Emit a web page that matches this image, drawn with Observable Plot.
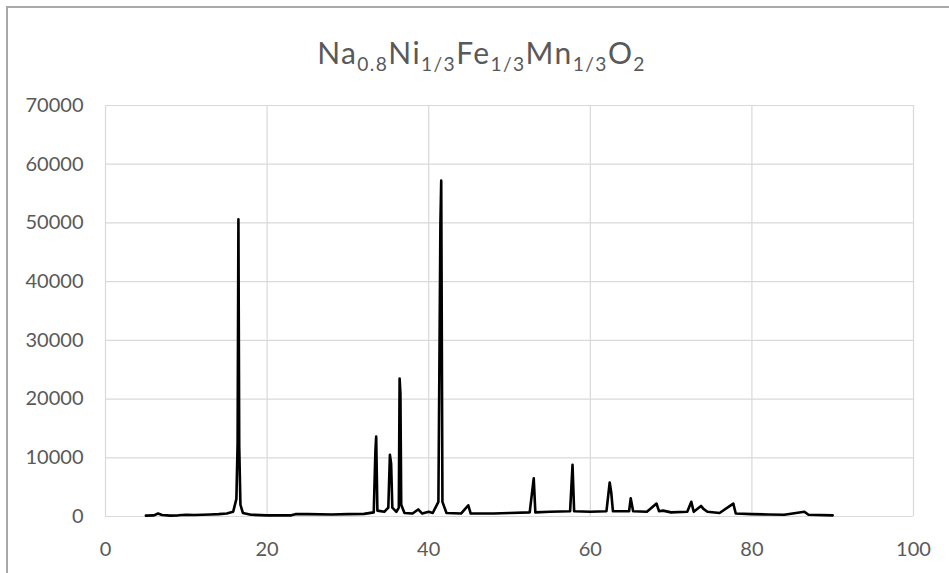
<!DOCTYPE html>
<html>
<head>
<meta charset="utf-8">
<script src="https://cdn.jsdelivr.net/npm/d3@7"></script>
<script src="https://cdn.jsdelivr.net/npm/@observablehq/plot@0.6"></script>
<style>
  html, body { margin: 0; padding: 0; background: #fff; }
  #wrap { position: relative; width: 949px; height: 573px; overflow: hidden; background: #fff; }
  #border { position: absolute; left: 6px; top: 6px; width: 960px; height: 580px;
            border-left: 2px solid #a9a9a9; border-top: 2px solid #a9a9a9; }
  #title { position: absolute; top: 37px; left: 7px; width: 949px; text-align: center;
           font-family: Lato, "Open Sans", sans-serif; font-size: 30px; letter-spacing: 1.4px;
           color: #595959; line-height: 1; }
  #title span { font-size: 0.64em; position: relative; top: 0.35em; }
  #chart { position: absolute; left: 0; top: 80px; }
</style>
</head>
<body>
<div id="wrap">
  <div id="border"></div>
  <div id="title"></div>
  <div id="chart"></div>
</div>
<script>
// Title parts: [main text, subscript]
const titleParts = [["Na", "0.8"], ["Ni", "1/3"], ["Fe", "1/3"], ["Mn", "1/3"], ["O", "2"]];

// Diffraction pattern (2θ, intensity)
const twoTheta = [
  5.0, 6.0, 6.5, 7.0, 8.0, 9.0, 10.0, 11.0, 12.0, 13.0, 14.0, 15.0, 15.8,
  16.2, 16.35, 16.45, 16.55, 16.7, 17.0, 18.0, 20.0, 23.0, 23.5, 25.0, 28.0,
  30.0, 32.0, 33.2, 33.4, 33.5, 33.65, 34.5, 35.0, 35.1, 35.2, 35.35, 35.5,
  36.0, 36.3, 36.4, 36.5, 36.6, 37.0, 38.0, 38.7, 39.2, 40.0, 40.5, 41.2,
  41.45, 41.55, 41.7, 42.2, 44.0, 44.9, 45.2, 48.0, 50.0, 52.5, 53.0, 53.2,
  55.0, 57.5, 57.8, 58.0, 60.0, 62.0, 62.4, 62.6, 62.8, 64.8, 65.0, 65.3,
  67.0, 68.2, 68.5, 69.0, 70.0, 72.0, 72.5, 72.8, 73.7, 74.0, 74.5, 76.0,
  77.7, 78.0, 80.0, 82.0, 84.0, 86.5, 87.0, 90.0
];
const intensity = [
  150, 200, 500, 250, 150, 200, 300, 250, 300, 350, 400, 500, 800,
  3000, 12500, 50600, 12000, 2000, 600, 300, 200, 200, 400, 400, 350,
  400, 450, 700, 11000, 13600, 1000, 800, 1500, 6000, 10500, 9000, 1500,
  800, 1500, 23500, 21000, 2000, 600, 500, 1200, 500, 800, 600, 2500,
  50000, 57200, 2500, 600, 500, 1900, 500, 500, 600, 700, 6500, 700,
  800, 900, 8800, 900, 800, 900, 5800, 4000, 900, 900, 3100, 900,
  800, 2200, 900, 1000, 700, 800, 2500, 800, 1800, 1300, 800, 600,
  2200, 500, 400, 350, 300, 800, 300, 200
];

const xTicks = [0, 20, 40, 60, 80, 100];
const yTicks = [0, 10000, 20000, 30000, 40000, 50000, 60000, 70000];

const data = twoTheta.map((t, k) => ({t, i: intensity[k]}));

document.getElementById("title").innerHTML =
  titleParts.map(([m, s]) => `${m}<span>${s}</span>`).join("");

const chart = Plot.plot({
  width: 949,
  height: 493,
  marginLeft: 105,
  marginRight: 36,
  marginTop: 25,
  marginBottom: 57,
  style: { fontFamily: "Lato, 'Open Sans', sans-serif", fontSize: "20px", color: "#595959", background: "transparent" },
  x: { domain: [0, 100], label: null },
  y: { domain: [0, 70000], label: null },
  marks: [
    Plot.gridY(yTicks, { stroke: "#d9d9d9", strokeOpacity: 1, strokeWidth: 1.2 }),
    Plot.gridX(xTicks, { stroke: "#d9d9d9", strokeOpacity: 1, strokeWidth: 1.2 }),
    Plot.axisY({ ticks: yTicks, tickSize: 0, tickPadding: 22, tickFormat: d => String(d) }),
    Plot.axisX({ ticks: xTicks, tickSize: 0, tickPadding: 25, tickFormat: d => String(d) }),
    Plot.line(data, { x: "t", y: "i", stroke: "#000", strokeWidth: 2.6, strokeLinejoin: "round" })
  ]
});
document.getElementById("chart").appendChild(chart);
</script>
</body>
</html>
